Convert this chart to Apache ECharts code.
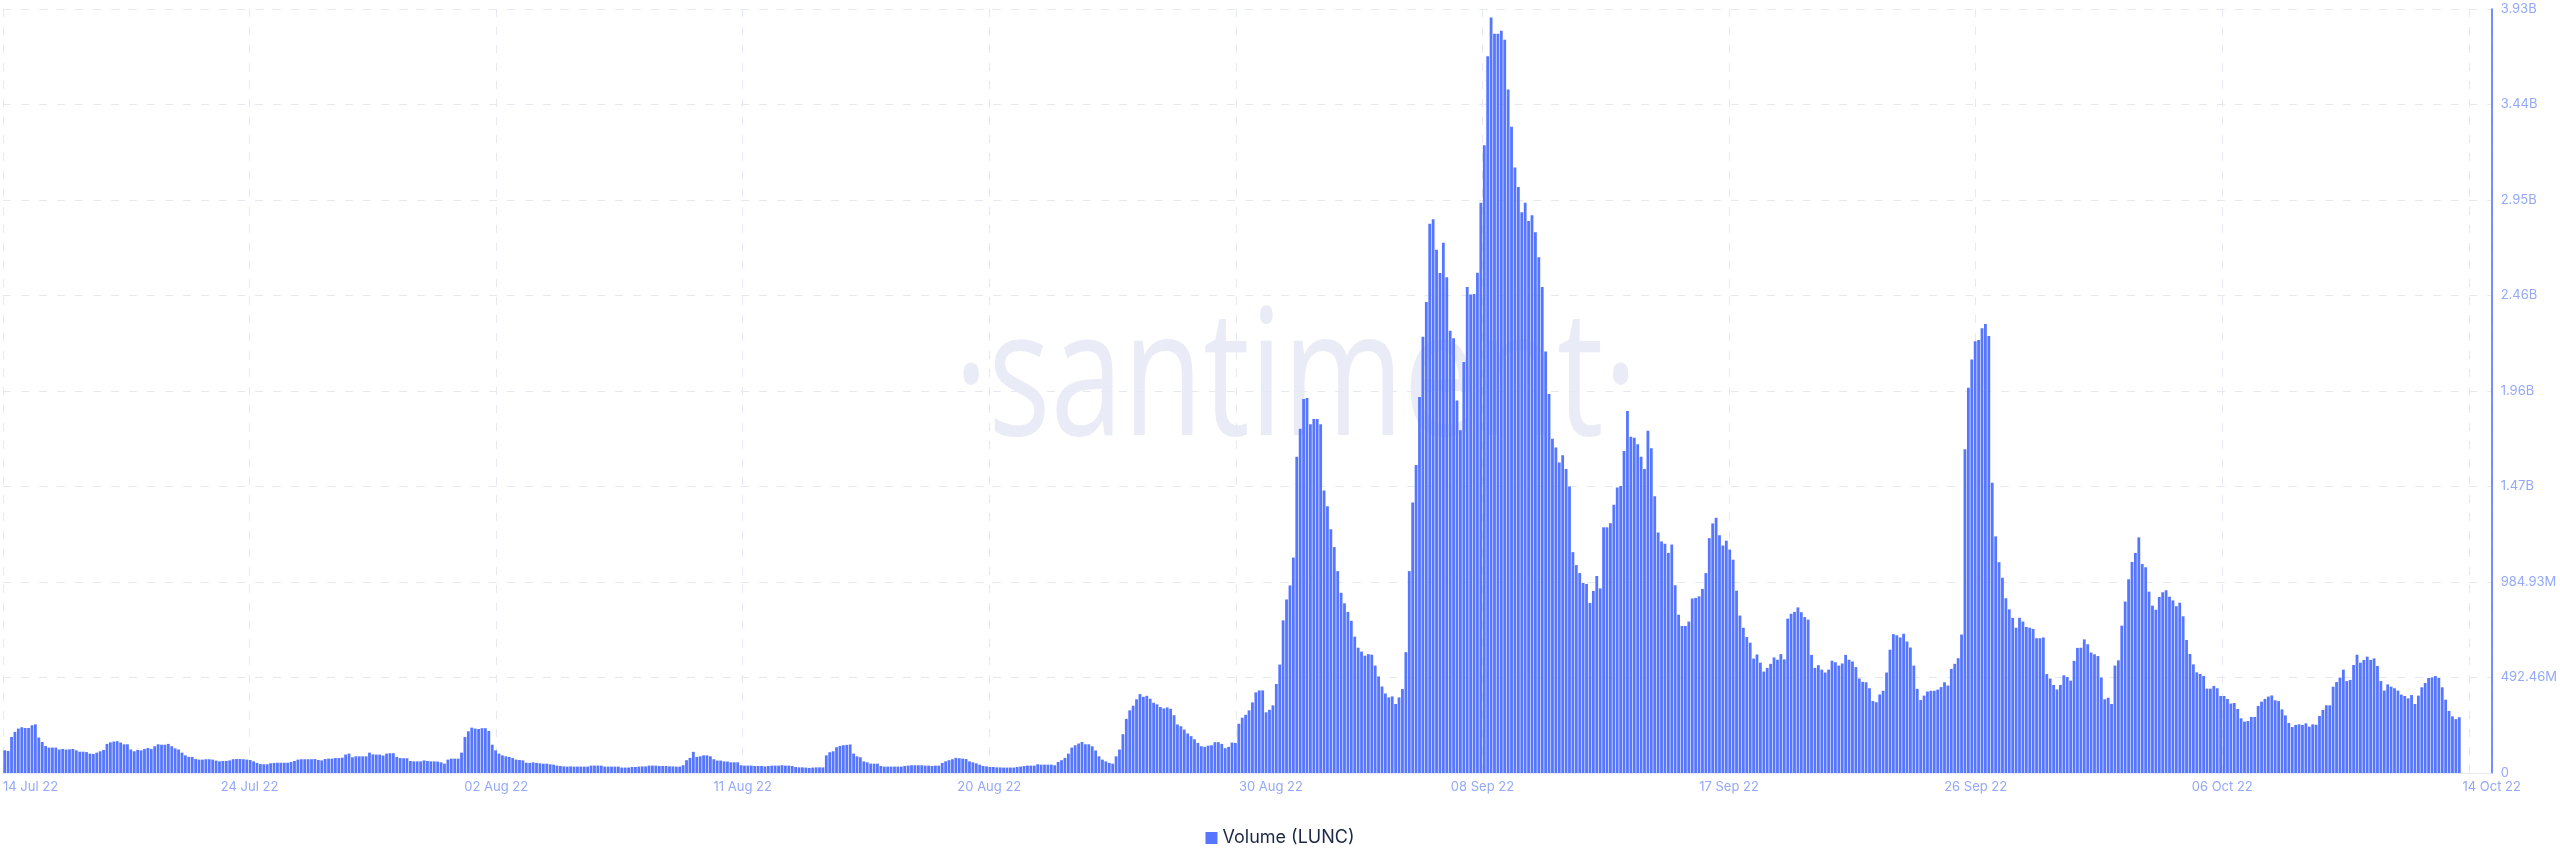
<!DOCTYPE html>
<html><head><meta charset="utf-8">
<script src="https://cdn.jsdelivr.net/npm/echarts@6/dist/echarts.min.js"></script>
<style>html,body{margin:0;padding:0;background:#fff;overflow:hidden}#c{width:2560px;height:867px}</style>
</head><body><div id="c"></div>
<script>
// x-axis tick labels (one per vertical grid line)
const xTickLabels = ['14 Jul 22','24 Jul 22','02 Aug 22','11 Aug 22','20 Aug 22','30 Aug 22','08 Sep 22','17 Sep 22','26 Sep 22','06 Oct 22','14 Oct 22'];
// y-axis tick labels
const yTickLabels = ['0','492.46M','984.93M','1.47B','1.96B','2.46B','2.95B','3.44B','3.93B'];
const yMaxM = 3939.7;          // axis top, millions
const axisSlots = 730;         // 3-hour slots on the x axis
const slotsPerTick = 72.33;    // 3-hour slots between vertical grid lines
// 3-hour LUNC volume, millions, from 15 Jul 22 to 13 Oct 22
const volumeJul = [117,114,186,212,229,236,232,232,246,251,183,160,139,131,131,131,121,124,121,122,124,117,110,110,108,100,98,105,112,119,150,158,162,164,157,148,148,121,112,119,117,124,129,124,138,148,146,146,150,138,127,121,105,91,83,83,72,69,69,71,71,69,64,60,62,62,65,71,72,72,71,69,
67,60,52,46,45,45,50,52,53,53,53,53,57,62,69,71,71,71,71,72,67,65,72,74,74,77,77,79,95,100,81,86,86,86,86,105,96,95,95,90,100,102,102,83,77,76,76,62,60,60,60,65,62,60,60,59,55,48,69,74,74,74,105,186,215,234,229,227,231,231,217,146];
const volumeAug = [117,100,91,86,83,77,69,67,65,53,52,55,52,50,48,48,45,43,38,36,34,33,34,33,33,33,33,33,38,38,38,38,33,33,33,33,33,
28,28,28,31,31,33,34,34,38,38,38,36,36,36,34,34,33,33,40,66,78,109,83,86,91,91,86,71,64,64,60,59,55,55,55,40,
38,38,38,36,36,36,34,36,38,38,38,40,38,38,36,31,29,29,28,26,28,29,29,29,91,107,112,133,140,143,145,147,100,86,81,60,55,48,48,48,36,33,33,33,33,33,33,36,38,40,40,40,40,38,38,36,38,38,52,60,66,71,78,76,74,72,60,55,50,43,36,34,
31,31,29,29,28,28,28,28,31,33,36,38,38,38,45,43,43,43,43,40,57,66,78,100,131,143,152,160,148,148,138,116,86,69,60,52,48,86,121,200,279,323,347,380,407,393,398,383,362,354,340,333,338,331,298,250,241,224,204,190,174,155,138,135,141,143,159,159,150,128,135,157,155];
const volumeSep = [254,285,300,323,364,416,426,426,313,326,349,459,559,787,895,967,1111,1631,1775,1929,1934,1798,1826,1826,1798,1457,1375,1257,1165,1041,929,875,831,785,703,646,626,605,613,610,554,498,446,410,390,395,356,390,433,623,
1041,1395,1588,1939,2250,2429,2832,2855,2698,2578,2734,2557,2280,2242,1921,1767,2119,2506,2467,2470,2580,2940,3237,3696,3896,3812,3812,3827,3781,3524,3332,3122,3022,2891,2940,2847,2876,2788,2660,2506,2173,1955,1724,1678,1601,1639,1567,1477,1139,1072,1031,980,975,877,939,1016,952,1267,1267,1288,1383,1472,1480,1660,1867,1734,1729,1695,1631,1567,
1765,1675,1427,1240,1194,1182,1135,1178,968,816,758,758,781,900,903,911,949,1031,1211,1287,1316,1226,1173,1198,1152,1100,940,812,749,701,672,590,611,569,523,542,563,596,584,613,586,796,821,831,854,829,804,791,609,542,556,533,518,533,579,571,554,565,609,584,575,546,487,470,468,437,371,365,405,424,518,636,716,710,699,718,678,647,554,434,376,399,420,424,424,430,443,468,451,537,563,592,714,1669,1986,2132,2227,2233,2294,2315,2254,1497,1220,1087,1007,901,844,800,749,800,781,753,749,743,695,695,699,510,487];
const volumeOct = [454,431,454,504,495,476,578,645,646,689,664,621,612,603,493,380,388,356,554,581,760,884,999,1088,1135,1215,1078,1061,935,863,842,908,932,942,909,890,860,878,808,686,614,560,519,511,500,435,435,449,437,397,397,382,358,361,330,282,265,268,289,289,346,368,382,394,400,375,371,328,297,258,237,248,251,248,256,239,251,249,294,325,349,349,445,469,492,533,474,480,557,610,569,583,600,583,591,552,474,425,457,445,437,425,404,397,385,402,356,399,442,464,490,493,500,490,442,378,320,292,278,287.59];
const volume = volumeJul.concat(volumeAug, volumeSep, volumeOct);

const seriesName = 'Volume (LUNC)';
const barColor = '#5676ff';
const labelColor = '#94a8f8';
const gridColor = '#e6e9f2';
const yStep = yMaxM / 8;
const last = volume[volume.length - 1];

const chart = echarts.init(document.getElementById('c'), null, {renderer: 'canvas'});
chart.setOption({
  animation: false,
  backgroundColor: '#ffffff',
  textStyle: {fontFamily: 'Inter, "Noto Sans", sans-serif'},
  grid: {left: 0, right: 67, top: 9, bottom: 94, containLabel: false},
  graphic: [{
    type: 'text', x: 954, y: 296, scaleX: 0.96, scaleY: 1.3, z: 0, silent: true,
    style: {text: '\u00B7santiment\u00B7', font: 'normal 136px "Open Sans", sans-serif', fill: '#e9ecf6'}
  }],
  legend: {
    data: [seriesName], top: 824, left: 'center', icon: 'rect', itemWidth: 12, itemHeight: 12, itemGap: 8,
    textStyle: {color: '#1d2845', fontSize: 18, fontFamily: 'Inter, sans-serif'}
  },
  xAxis: {
    type: 'value', min: 0, max: axisSlots, interval: slotsPerTick,
    axisLine: {show: true, onZero: false, lineStyle: {color: gridColor, width: 1}},
    axisTick: {show: false},
    axisLabel: {
      color: labelColor, fontSize: 13, margin: 8, alignMinLabel: 'left',
      rich: {shift: {color: labelColor, fontSize: 13, padding: [0, 0, 0, 70]}},
      formatter: function (v) {
        if (v >= axisSlots - 0.01) return xTickLabels[xTickLabels.length - 1];
        const k = Math.round(v / slotsPerTick);
        if (k === 5) return '{shift|' + xTickLabels[k] + '}';
        return k < xTickLabels.length - 1 ? xTickLabels[k] : '';
      }
    },
    splitLine: {show: true, lineStyle: {color: gridColor, type: [8, 10], width: 1}}
  },
  yAxis: {
    type: 'value', position: 'right', min: 0, max: yMaxM, interval: yStep,
    axisLine: {show: true, onZero: false, lineStyle: {color: '#5274ff', width: 1.6}},
    axisTick: {show: false},
    axisLabel: {
      color: labelColor, fontSize: 13, margin: 9,
      formatter: function (v) { return yTickLabels[Math.round(v / yStep)]; }
    },
    splitLine: {show: true, lineStyle: {color: gridColor, type: [8, 10], width: 1}}
  },
  series: [{
    name: seriesName, type: 'bar', barWidth: 2.8, z: 3,
    itemStyle: {color: barColor},
    data: volume.map(function (v, i) { return [i + 0.5, v]; }),
    markLine: {
      silent: true, symbol: 'none', animation: false,
      data: [{yAxis: last}],
      lineStyle: {opacity: 0},
      label: {
        show: true, position: 'end', distance: 4,
        formatter: last.toFixed(2) + 'M',
        backgroundColor: '#5b7cff', color: '#ffffff', fontSize: 14, padding: [3, 4, 2, 4]
      }
    }
  }]
});
</script>
</body></html>
